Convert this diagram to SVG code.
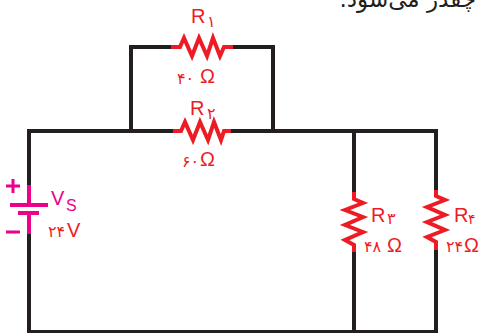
<svg xmlns="http://www.w3.org/2000/svg" width="481" height="333" viewBox="0 0 481 333">
<style>
.w{fill:none;stroke:#231f20;stroke-width:4}
.r{fill:none;stroke:#ed1c24;stroke-width:4;stroke-linejoin:miter}
.b{fill:none;stroke:#ec008c;stroke-width:4}
.t{font-family:"Liberation Sans",Arial,sans-serif;fill:#ed1c24;font-size:20px}
.d{font-family:"DejaVu Sans",sans-serif;fill:#ed1c24;font-size:16px}
.m{font-family:"Liberation Sans",Arial,sans-serif;fill:#ec008c;font-size:20px}
</style>
<rect width="481" height="333" fill="#fff"/>
<g id="connectors">
<path class="w" d="M27 131H173M231 131H436V192M436 250V332H29V233M29 185V131"/>
<path class="w" d="M131 131V47H171M233 47H273V131"/>
<path class="w" d="M354 131V192M354 252V332"/>
</g>
<g id="R1">
<path class="r" d="M171 47H180L184 38L192 56L199 38L207 56L213 38L220 56L224 47H233"/>
<text class="t" x="191" y="23">R</text><text class="d" x="207" y="27">۱</text>
<text class="d" x="177" y="84">۴۰</text><text class="t" x="200" y="83">Ω</text>
</g>
<g id="R2">
<path class="r" d="M173 131H181L185 122L193 140L200 122L208 140L214 122L221 140L224 131H231"/>
<text class="t" x="190" y="115">R</text><text class="d" x="207" y="119">۲</text>
<text class="d" x="182" y="167">۶۰</text><text class="t" x="200" y="166">Ω</text>
</g>
<g id="R3">
<path class="r" d="M354 192V199L363 203L345 210L363 217L345 225L363 232L345 240L354 245V252"/>
<text class="t" x="371" y="222">R</text><text class="d" x="387" y="224">۳</text>
<text class="d" x="364" y="252">۴۸</text><text class="t" x="387" y="252">Ω</text>
</g>
<g id="R4">
<path class="r" d="M436 190V196L445 200L427 207L445 215L427 222L445 230L427 237L436 242V250"/>
<text class="t" x="454" y="222">R</text><text class="d" x="468" y="224" style="font-size:14px">۴</text>
<text class="d" x="446" y="252">۲۴</text><text class="t" x="464" y="252">Ω</text>
</g>
<g id="VS">
<path class="b" d="M29 185V205M10 205H48M18 213H39M29 213V234"/>
<path class="b" style="stroke-width:3" d="M6 186H20M13 179V193M6 232H20"/>
<text class="m" x="51" y="205">V</text><text class="m" x="66" y="211" style="font-size:16px">S</text>
<text class="d" x="48" y="237">۲۴</text><text class="t" x="67" y="237">V</text>
</g>
<text x="476" y="7" direction="rtl" style="font-family:'DejaVu Sans',sans-serif;font-size:23px;fill:#231f20">چقدر می‌شود.</text>
</svg>
